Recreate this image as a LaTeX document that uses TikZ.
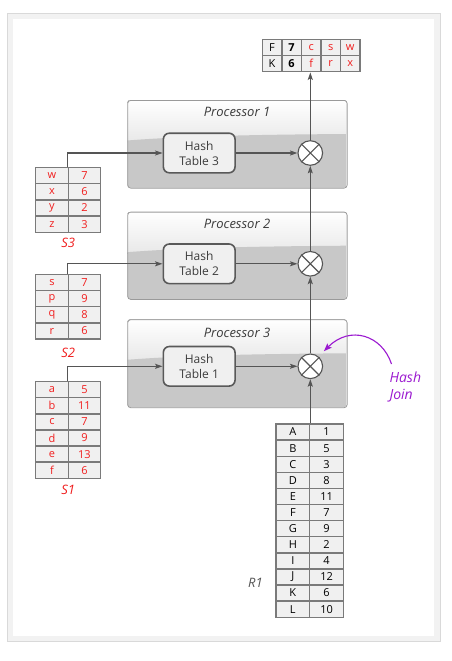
\documentclass[tikz,border=0pt]{standalone}
\usepackage{fontspec}
\setmainfont{Open Sans}
\usetikzlibrary{arrows.meta,shapes.geometric}
\definecolor{framegray}{HTML}{F2F2F2}
\definecolor{frameborder}{HTML}{D9D9D9}
\definecolor{linegray}{HTML}{555555}
\definecolor{cellborder}{HTML}{7A7A7A}
\definecolor{cellfill}{HTML}{F0F0F0}
\definecolor{tred}{HTML}{F01E1E}
\definecolor{textgray}{HTML}{3C3C3C}
\definecolor{htborder}{HTML}{595959}
\definecolor{pborder}{HTML}{9A9A9A}
\definecolor{pmid}{HTML}{E8E8E8}
\definecolor{pgray}{HTML}{C8C8C8}
\definecolor{jpurple}{HTML}{9B19D0}
\tikzset{
 conn/.style={draw=linegray, line width=1.1pt},
 arr/.style={conn, -{Stealth[length=7.5pt,width=5pt,inset=1.5pt]}},
 cell/.style={draw=cellborder, fill=cellfill, line width=1.4pt, inner sep=0pt, font=\fontsize{11}{12}\selectfont, text=black},
 rcell/.style={cell, text=tred},
 rone/.style={cell, minimum width=33.7pt, minimum height=16.1pt},
 scell/.style={rcell, minimum width=32.5pt, minimum height=16.2pt},
 tcell/.style={cell, minimum width=19.54pt, minimum height=16.2pt},
 htab/.style={draw=htborder, fill=cellfill, line width=1.6pt, rounded corners=6pt, minimum width=71.7pt, minimum height=39.6pt, align=center, font=\fontsize{12}{15}\selectfont, text=textgray, inner sep=0pt},
 joiner/.style={circle, draw=linegray, line width=1.1pt, fill=white, minimum size=24.6pt, inner sep=0pt},
 ptitle/.style={font=\fontsize{13}{15}\selectfont\itshape, text=textgray},
 slabel/.style={font=\fontsize{13}{15}\selectfont\itshape, text=tred},
 pframe/.style={draw=pborder, line width=0.8pt, rounded corners=3pt, inner sep=0pt, minimum width=219.4pt, anchor=north west},
}
\newcommand\ProcBox[5]{%
 \begin{scope}
  \clip[rounded corners=3pt] (127.3,#2) rectangle ++(219.4,#3);
  \fill[top color=white, bottom color=pmid] (127.3,#2) rectangle (346.7,#2+42);
  \fill[pgray] (127.3,#2+40.5) .. controls (190,#2+35.5) and (280,#2+34.5) .. (346.7,#2+34) -- (346.7,#2+#3) -- (127.3,#2+#3) -- cycle;
 \end{scope}
 \node[pframe, minimum height=#3pt] (#1) at (127.3,#2) {};
 \node[ptitle] (#1t) at (237,#4) {#5};
}
\begin{document}
\begin{tikzpicture}[x=1pt,y=-1pt]
\fill[white] (0,0) rectangle (452,661);
\useasboundingbox (0,0) rectangle (452,661);
\fill[framegray, draw=frameborder, line width=0.8pt] (7,13.3) rectangle (440,641.7);
\fill[white] (12.7,19) rectangle (434,635.7);

% processors
\ProcBox{p1}{100}{87.7}{112}{Processor 1}
\ProcBox{p2}{211.7}{87.3}{224}{Processor 2}
\ProcBox{p3}{319.3}{88}{332.7}{Processor 3}

% hash tables and joins
\node[htab] (ht3) at (199.2,153) {Hash\\Table 3};
\node[htab] (ht2) at (199.2,263.8) {Hash\\Table 2};
\node[htab] (ht1) at (199.2,366.3) {Hash\\Table 1};
\foreach \n/\y in {c1/153, c2/263.8, c3/366.3}{
  \node[joiner] (\n) at (310.3,\y) {};
  \draw[linegray, line width=1.1pt] (\n.north west) -- (\n.south east) (\n.north east) -- (\n.south west);
}

% output table
\node[tcell] (t1) at (272.07,47.4) {F};
\node[tcell, font=\fontsize{11}{12}\selectfont\bfseries] (t2) at (291.61,47.4) {7};
\node[tcell, text=tred] (t3) at (311.15,47.4) {c};
\node[tcell, text=tred] (t4) at (330.69,47.4) {s};
\node[tcell, text=tred] (t5) at (350.23,47.4) {w};
\node[tcell] (u1) at (272.07,63.6) {K};
\node[tcell, font=\fontsize{11}{12}\selectfont\bfseries] (u2) at (291.61,63.6) {6};
\node[tcell, text=tred] (u3) at (311.15,63.6) {f};
\node[tcell, text=tred] (u4) at (330.69,63.6) {r};
\node[tcell, text=tred] (u5) at (350.23,63.6) {x};

% S3
\foreach \l/\v [count=\i] in {w/7,x/6,y/2,z/3}{
  \node[scell] (s3l\i) at (51.95,{167.3+16.25*(\i-0.5)}) {\l};
  \node[scell] (s3v\i) at (84.45,{167.3+16.25*(\i-0.5)}) {\v};
}
\node[slabel] (s3lab) at (68.3,243.3) {S3};
% S2
\foreach \l/\v [count=\i] in {s/7,p/9,q/8,r/6}{
  \node[scell] (s2l\i) at (51.95,{274.3+16.2*(\i-0.5)}) {\l};
  \node[scell] (s2v\i) at (84.45,{274.3+16.2*(\i-0.5)}) {\v};
}
\node[slabel] (s2lab) at (68.3,353.3) {S2};
% S1
\foreach \l/\v [count=\i] in {a/5,b/11,c/7,d/9,e/13,f/6}{
  \node[scell] (s1l\i) at (51.95,{381.7+16.1*(\i-0.5)}) {\l};
  \node[scell] (s1v\i) at (84.45,{381.7+16.1*(\i-0.5)}) {\v};
}
\node[slabel] (s1lab) at (68.3,490) {S1};
% R1
\foreach \l/\v [count=\i] in {A/1,B/5,C/3,D/8,E/11,F/7,G/9,H/2,I/4,J/12,K/6,L/10}{
  \node[rone] (r1l\i) at (292.85,{424+16.1*(\i-0.5)}) {\l};
  \node[rone] (r1v\i) at (326.55,{424+16.1*(\i-0.5)}) {\v};
}
\node[ptitle, font=\fontsize{13}{15}\selectfont\itshape, text=linegray] (r1lab) at (255.5,583.3) {R1};

% connectors
\draw[arr] (s3v1.north west) |- (ht3.west);
\draw[arr] (s2v1.north west) |- (ht2.west);
\draw[arr] (s1v1.north west) |- (ht1.west);
\draw[arr] (ht3.east) -- (c1.west);
\draw[arr] (ht2.east) -- (c2.west);
\draw[arr] (ht1.east) -- (c3.west);
\draw[arr] (c3 |- r1v1.north) -- (c3.south);
\draw[arr] (c3.north) -- (c2.south);
\draw[arr] (c2.north) -- (c1.south);
\draw[arr] (c1.north) -- (c1 |- u3.south);

% hash join annotation
\node[font=\fontsize{14}{17}\selectfont\itshape, text=jpurple, align=left, anchor=west] (hj) at (386,386.5) {Hash\\Join};
\coordinate (hjs) at (391.5,364);
\coordinate (hjt) at ([shift={(4.5,-6)}]c3.north east);
\draw[jpurple, line width=1.1pt, -{Stealth[length=8pt,width=6pt,inset=1.5pt]}] (hjs) .. controls (382,335) and (350,325) .. (hjt);
\end{tikzpicture}
\end{document}
